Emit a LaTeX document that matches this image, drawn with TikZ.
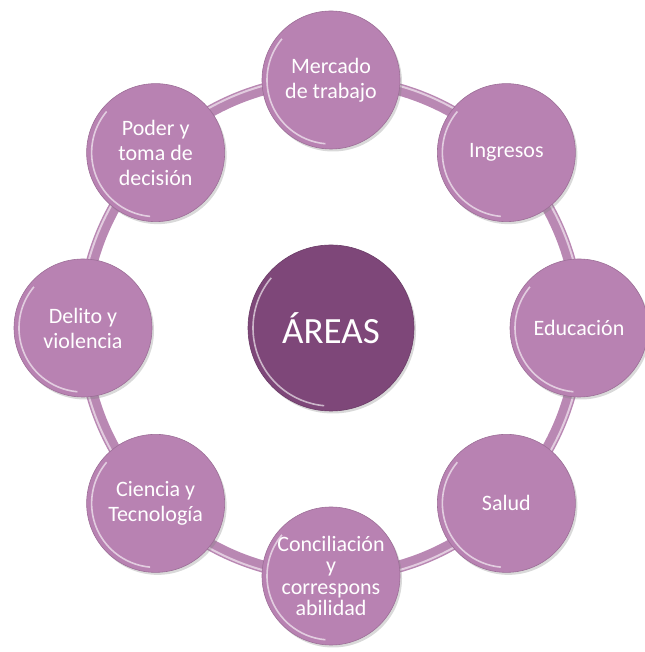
\documentclass[tikz,border=0pt]{standalone}
\usepackage{fontspec}
\setmainfont{Carlito}
\usepackage{tikz}
\usetikzlibrary{shadows, backgrounds}
\definecolor{lilac}{HTML}{B882B2}
\definecolor{plum}{HTML}{7E4779}
\definecolor{ringlilac}{HTML}{B988B3}
\definecolor{glosslilac}{HTML}{E2CCDF}

\begin{document}
\begin{tikzpicture}[
    x=1pt, y=1pt,
    shine/.style={path picture={\draw[white, opacity=0.6, line width=1.6pt]
            ([shift={(140:#1)}]path picture bounding box.center) arc[start angle=140, end angle=265, radius=#1];}},
    area/.style={circle, fill=lilac, draw=lilac!85!black, line width=0.6pt, minimum size=138pt, inner sep=0pt,
        text=white, font=\fontsize{22}{25}\selectfont, align=center,
        drop shadow={shadow xshift=2pt, shadow yshift=-2.5pt, opacity=0.3}, shine=64pt},
    hub/.style={area, fill=plum, draw=plum!85!black, minimum size=166pt, font=\fontsize{37}{40}\selectfont, shine=78pt},
    ring/.style={line width=12pt, ringlilac},
    gloss/.style={line width=2pt, glosslilac},
]
    \useasboundingbox (0,0) rectangle (644,652);

    \node[hub] (areas) at (331,324) {ÁREAS};

    \node[area] (mercado)  at ([shift={(90:248)}]areas.center)  {Mercado\\de trabajo};
    \node[area] (ingresos) at ([shift={(45:248)}]areas.center)  {Ingresos};
    \node[area] (educ)     at ([shift={(0:248)}]areas.center)   {Educación};
    \node[area] (salud)    at ([shift={(-45:248)}]areas.center) {Salud};
    \node[area, font=\fontsize{22}{21.5}\selectfont] (concil) at ([shift={(-90:248)}]areas.center)
        {Conciliación\\y\\correspons\\abilidad};
    \node[area] (ciencia)  at ([shift={(-135:248)}]areas.center) {Ciencia y\\Tecnología};
    \node[area] (delito)   at ([shift={(180:248)}]areas.center) {Delito y\\violencia};
    \node[area] (poder)    at ([shift={(135:248)}]areas.center) {Poder y\\toma de\\decisión};

    % the tube joining the outer circles
    \begin{scope}[on background layer]
        \draw[ring] (areas.center) circle (248);
        \draw[gloss] (areas.center) circle (251.5);
    \end{scope}
\end{tikzpicture}
\end{document}
